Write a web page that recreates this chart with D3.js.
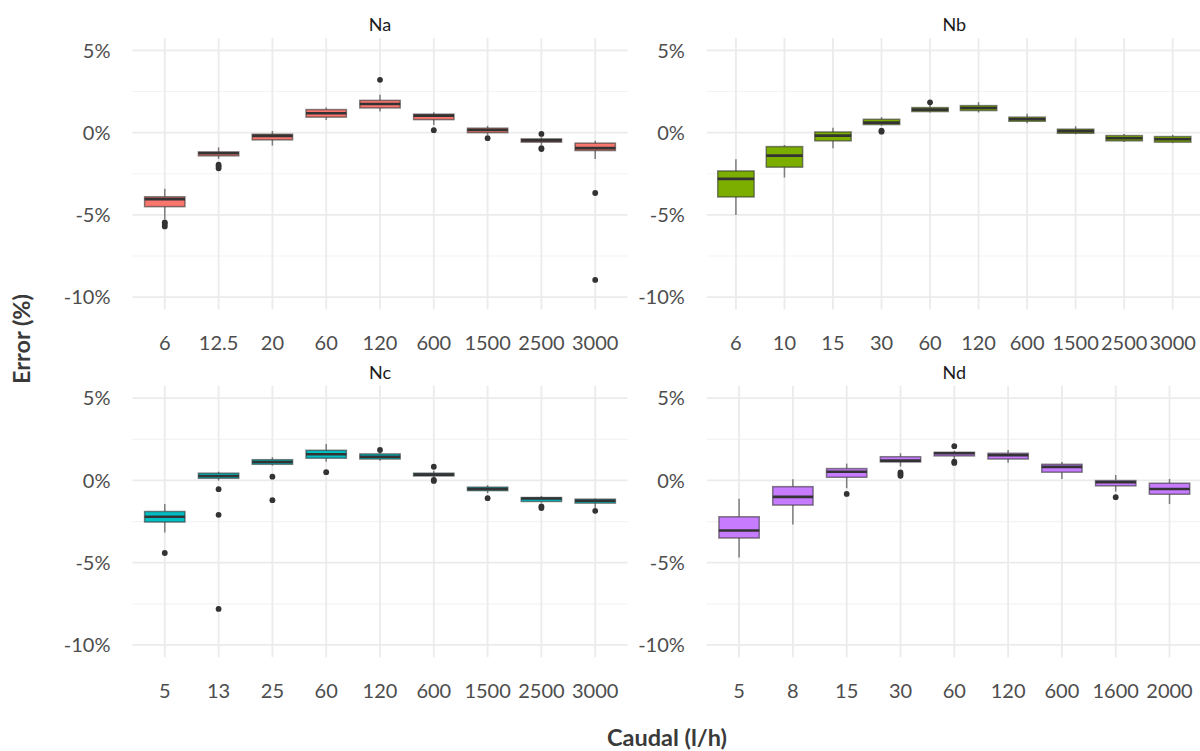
<!DOCTYPE html>
<html>
<head>
<meta charset="utf-8">
<script src="https://cdn.jsdelivr.net/npm/d3@7"></script>
<style>
  body { margin: 0; background: #fff; }
  text { font-family: Lato, "Open Sans", sans-serif; }
</style>
</head>
<body>
<div id="canvas"></div>
<script>
"use strict"

/* Data: one set of arrays per panel. Each box is [lower whisker, Q1, median, Q3, upper whisker] in % */
let naLabels = ["6", "12.5", "20", "60", "120", "600", "1500", "2500", "3000"];
let naBoxes = [
    [-5.25, -4.50, -4.04, -3.90, -3.41],
    [-1.60, -1.41, -1.25, -1.17, -0.90],
    [-0.79, -0.44, -0.20, -0.10, 0.10],
    [0.77, 0.94, 1.18, 1.40, 1.52],
    [1.29, 1.50, 1.74, 1.96, 2.30],
    [0.47, 0.79, 1.03, 1.12, 1.24],
    [-0.14, 0.00, 0.16, 0.27, 0.41],
    [-0.75, -0.58, -0.47, -0.38, -0.28],
    [-1.60, -1.09, -0.94, -0.64, -0.50]
];
let naOutliers = [
    [-5.45, -5.55, -5.70],
    [-1.95, -2.05, -2.17],
    [],
    [],
    [3.21],
    [0.15],
    [-0.34],
    [-0.08, -0.94, -1.00],
    [-3.67, -8.95]
];

let nbLabels = ["6", "10", "15", "30", "60", "120", "600", "1500", "2500", "3000"];
let nbBoxes = [
    [-5.00, -3.91, -2.81, -2.33, -1.62],
    [-2.73, -2.10, -1.40, -0.85, -0.75],
    [-0.95, -0.50, -0.18, 0.04, 0.30],
    [0.43, 0.49, 0.61, 0.81, 0.94],
    [1.22, 1.28, 1.40, 1.52, 1.68],
    [1.22, 1.34, 1.50, 1.64, 1.85],
    [0.57, 0.69, 0.81, 0.94, 1.14],
    [-0.10, -0.04, 0.09, 0.21, 0.39],
    [-0.57, -0.50, -0.34, -0.18, -0.08],
    [-0.64, -0.58, -0.40, -0.24, -0.14]
];
let nbOutliers = [[], [], [], [0.06, 0.12], [1.84], [], [], [], [], []];

let ncLabels = ["5", "13", "25", "60", "120", "600", "1500", "2500", "3000"];
let ncBoxes = [
    [-3.16, -2.53, -2.21, -1.89, -1.44],
    [-0.01, 0.13, 0.27, 0.44, 0.53],
    [0.90, 0.98, 1.12, 1.26, 1.41],
    [1.14, 1.35, 1.59, 1.83, 2.21],
    [1.20, 1.30, 1.44, 1.61, 1.72],
    [0.15, 0.27, 0.35, 0.44, 0.58],
    [-0.78, -0.62, -0.52, -0.41, -0.29],
    [-1.35, -1.28, -1.10, -1.04, -0.94],
    [-1.68, -1.38, -1.24, -1.14, -1.10]
];
let ncOutliers = [
    [-4.41],
    [-0.53, -2.09, -7.81],
    [0.23, -1.20],
    [0.50],
    [1.85],
    [0.83, 0.03, -0.03],
    [-1.08],
    [-1.58, -1.68],
    [-1.85]
];

let ndLabels = ["5", "8", "15", "30", "60", "120", "600", "1600", "2000"];
let ndBoxes = [
    [-4.68, -3.50, -3.04, -2.21, -1.12],
    [-2.68, -1.50, -1.00, -0.38, 0.07],
    [-0.47, 0.19, 0.53, 0.72, 1.02],
    [0.84, 1.12, 1.20, 1.44, 1.65],
    [1.30, 1.49, 1.65, 1.71, 1.80],
    [1.08, 1.30, 1.53, 1.65, 1.85],
    [0.09, 0.50, 0.82, 0.98, 1.12],
    [-0.68, -0.33, -0.11, -0.01, 0.33],
    [-1.44, -0.84, -0.52, -0.17, 0.09]
];
let ndOutliers = [[], [], [-0.82], [0.48, 0.38, 0.28], [2.08, 1.14, 1.06], [], [], [-1.02], []];

let panelNames = ["Na", "Nb", "Nc", "Nd"];
let panelColors = ["#F8766D", "#7CAE00", "#00BFC4", "#C77CFF"];
let yMajorTicks = [-10, -5, 0, 5];
let yMinorTicks = [-7.5, -2.5, 2.5];

let drawingWidth = 1200;
let drawingHeight = 751;

let drawing = d3.select("#canvas")
    .append("svg")
    .attr("width", drawingWidth)
    .attr("height", drawingHeight);

drawing.append("rect")
    .attr("width", drawingWidth)
    .attr("height", drawingHeight)
    .attr("fill", "white");

/* Panel layout */
let panelWidth = 495;
let panelHeight = 271.5;
let panelLefts = [132.5, 706.8];
let panelTops = [38, 385.8];

let panels = [
    { labels: naLabels, boxes: naBoxes, outliers: naOutliers },
    { labels: nbLabels, boxes: nbBoxes, outliers: nbOutliers },
    { labels: ncLabels, boxes: ncBoxes, outliers: ncOutliers },
    { labels: ndLabels, boxes: ndBoxes, outliers: ndOutliers }
];

panels.forEach(function (p, i) {
    let left = panelLefts[i % 2];
    let top = panelTops[Math.floor(i / 2)];
    let color = panelColors[i];

    let x = d3.scalePoint()
        .domain(p.labels)
        .range([left, left + panelWidth])
        .padding(0.6);
    let y = d3.scaleLinear()
        .domain([-10.75, 5.75])
        .range([top + panelHeight, top]);
    let boxWidth = x.step() * 0.75;

    let g = drawing.append("g");

    // minor grid
    g.selectAll(".minor")
        .data(yMinorTicks)
        .enter().append("line")
        .attr("x1", left).attr("x2", left + panelWidth)
        .attr("y1", d => y(d)).attr("y2", d => y(d))
        .attr("stroke", "#F3F3F3")
        .attr("stroke-width", 1.2);

    // major grid
    g.selectAll(".majorY")
        .data(yMajorTicks)
        .enter().append("line")
        .attr("x1", left).attr("x2", left + panelWidth)
        .attr("y1", d => y(d)).attr("y2", d => y(d))
        .attr("stroke", "#EBEBEB")
        .attr("stroke-width", 1.8);

    g.selectAll(".majorX")
        .data(p.labels)
        .enter().append("line")
        .attr("x1", d => x(d)).attr("x2", d => x(d))
        .attr("y1", top).attr("y2", top + panelHeight)
        .attr("stroke", "#EBEBEB")
        .attr("stroke-width", 1.8);

    // y tick labels
    g.selectAll(".ylab")
        .data(yMajorTicks)
        .enter().append("text")
        .attr("x", left - 22)
        .attr("y", d => y(d))
        .attr("dy", "0.36em")
        .attr("text-anchor", "end")
        .attr("font-size", 20)
        .attr("fill", "#4D4D4D")
        .text(d => d + "%");

    // x tick labels
    g.selectAll(".xlab")
        .data(p.labels)
        .enter().append("text")
        .attr("x", d => x(d))
        .attr("y", top + panelHeight + 33)
        .attr("dy", "0.36em")
        .attr("text-anchor", "middle")
        .attr("font-size", 20)
        .attr("fill", "#4D4D4D")
        .text(d => d);

    // strip title
    g.append("text")
        .attr("x", left + panelWidth / 2)
        .attr("y", top - 13)
        .attr("dy", "0.36em")
        .attr("text-anchor", "middle")
        .attr("font-size", 18)
        .attr("fill", "#1A1A1A")
        .text(panelNames[i]);

    // boxes
    p.boxes.forEach(function (b, j) {
        let cx = x(p.labels[j]);
        // whiskers
        g.append("line")
            .attr("x1", cx).attr("x2", cx)
            .attr("y1", y(b[3])).attr("y2", y(b[4]))
            .attr("stroke", "#333").attr("stroke-opacity", 0.6)
            .attr("stroke-width", 1.5);
        g.append("line")
            .attr("x1", cx).attr("x2", cx)
            .attr("y1", y(b[1])).attr("y2", y(b[0]))
            .attr("stroke", "#333").attr("stroke-opacity", 0.6)
            .attr("stroke-width", 1.5);
        // box
        g.append("rect")
            .attr("x", cx - boxWidth / 2)
            .attr("y", y(b[3]))
            .attr("width", boxWidth)
            .attr("height", y(b[1]) - y(b[3]))
            .attr("fill", color)
            .attr("stroke", "#333").attr("stroke-opacity", 0.6)
            .attr("stroke-width", 1.5);
        // median
        g.append("line")
            .attr("x1", cx - boxWidth / 2).attr("x2", cx + boxWidth / 2)
            .attr("y1", y(b[2])).attr("y2", y(b[2]))
            .attr("stroke", "#333")
            .attr("stroke-width", 2.6);
        // outliers
        g.selectAll(null)
            .data(p.outliers[j])
            .enter().append("circle")
            .attr("cx", cx)
            .attr("cy", d => y(d))
            .attr("r", 2.9)
            .attr("fill", "#333");
    });
});

/* Axis titles */
drawing.append("text")
    .attr("x", 667)
    .attr("y", 738)
    .attr("dy", "0.36em")
    .attr("text-anchor", "middle")
    .attr("font-size", 23.5)
    .attr("font-weight", "bold")
    .attr("fill", "#3A3A3A")
    .text("Caudal (l/h)");

drawing.append("text")
    .attr("transform", "translate(22,339) rotate(-90)")
    .attr("dy", "0.36em")
    .attr("text-anchor", "middle")
    .attr("font-size", 23.5)
    .attr("font-weight", "bold")
    .attr("fill", "#3A3A3A")
    .text("Error (%)");
</script>
</body>
</html>
